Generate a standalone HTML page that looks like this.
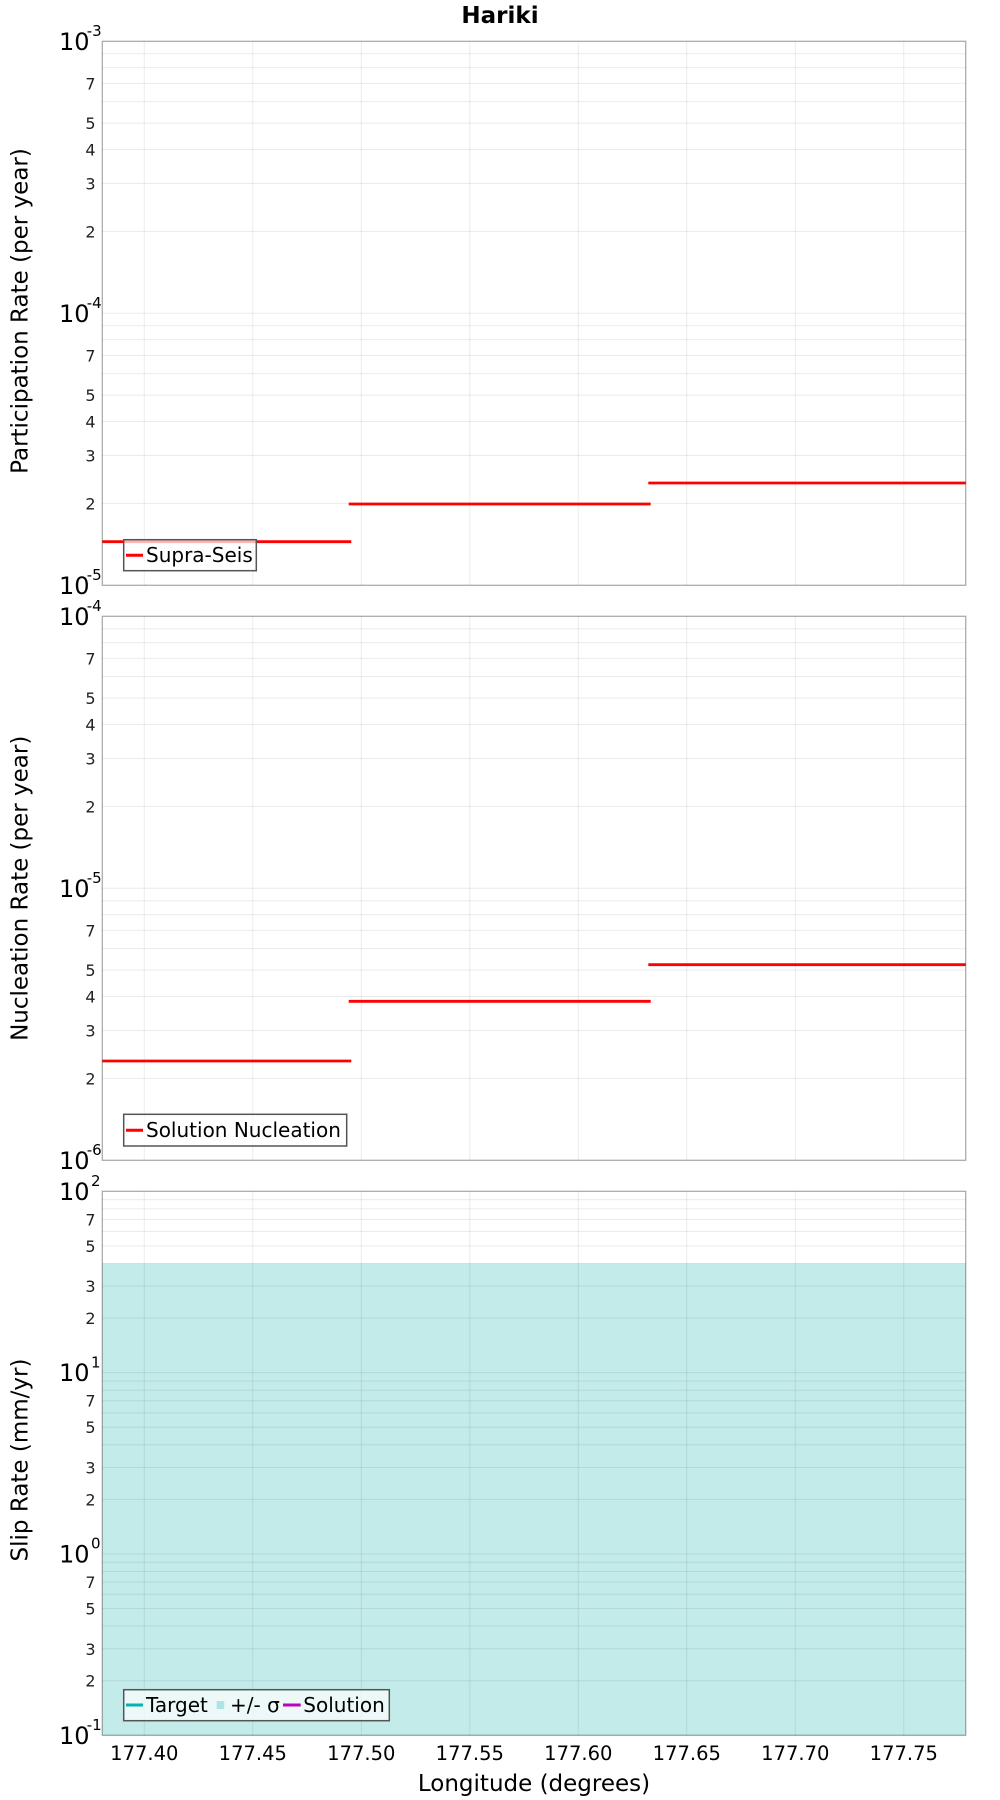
<!DOCTYPE html>
<html><head><meta charset="utf-8"><style>
html,body{margin:0;padding:0;background:#fff;}
svg{display:block;}
text{font-family:"DejaVu Sans","Liberation Sans",sans-serif;fill:#000;}
.mn{font-size:16px;text-anchor:end;fill:#222;}
.mj{font-size:24px;text-anchor:end;}
.sp{font-size:15px;text-anchor:end;}
.xt{font-size:19.5px;text-anchor:middle;}
.at{font-size:23px;text-anchor:middle;}
.lg{font-size:20px;}
.g line{stroke:rgba(0,0,0,0.08);stroke-width:1;}
</style></head><body>
<svg width="1000" height="1800" viewBox="0 0 1000 1800" xmlns="http://www.w3.org/2000/svg">
<rect width="1000" height="1800" fill="#fff"/>
<text x="500" y="23" style="font-size:23px;font-weight:bold;text-anchor:middle;">Hariki</text>

<!-- ===== Panel 3 fill (draw before grid) ===== -->
<rect x="102.3" y="1263.46" width="863.4" height="471.84" fill="#c3ebea"/>

<!-- ===== Vertical grid lines (all panels) ===== -->
<g class="g">
<line x1="144.3" y1="41.3" x2="144.3" y2="585.3"/><line x1="252.8" y1="41.3" x2="252.8" y2="585.3"/><line x1="361.3" y1="41.3" x2="361.3" y2="585.3"/><line x1="469.8" y1="41.3" x2="469.8" y2="585.3"/><line x1="578.3" y1="41.3" x2="578.3" y2="585.3"/><line x1="686.8" y1="41.3" x2="686.8" y2="585.3"/><line x1="795.3" y1="41.3" x2="795.3" y2="585.3"/><line x1="903.8" y1="41.3" x2="903.8" y2="585.3"/>
<line x1="144.3" y1="616.3" x2="144.3" y2="1160.3"/><line x1="252.8" y1="616.3" x2="252.8" y2="1160.3"/><line x1="361.3" y1="616.3" x2="361.3" y2="1160.3"/><line x1="469.8" y1="616.3" x2="469.8" y2="1160.3"/><line x1="578.3" y1="616.3" x2="578.3" y2="1160.3"/><line x1="686.8" y1="616.3" x2="686.8" y2="1160.3"/><line x1="795.3" y1="616.3" x2="795.3" y2="1160.3"/><line x1="903.8" y1="616.3" x2="903.8" y2="1160.3"/>
<line x1="144.3" y1="1191.3" x2="144.3" y2="1735.3"/><line x1="252.8" y1="1191.3" x2="252.8" y2="1735.3"/><line x1="361.3" y1="1191.3" x2="361.3" y2="1735.3"/><line x1="469.8" y1="1191.3" x2="469.8" y2="1735.3"/><line x1="578.3" y1="1191.3" x2="578.3" y2="1735.3"/><line x1="686.8" y1="1191.3" x2="686.8" y2="1735.3"/><line x1="795.3" y1="1191.3" x2="795.3" y2="1735.3"/><line x1="903.8" y1="1191.3" x2="903.8" y2="1735.3"/>
</g>

<!-- ===== Horizontal grid lines panel 1 ===== -->
<g class="g">
<line x1="102.3" x2="965.7" y1="53.75" y2="53.75"/><line x1="102.3" x2="965.7" y1="67.66" y2="67.66"/><line x1="102.3" x2="965.7" y1="83.43" y2="83.43"/><line x1="102.3" x2="965.7" y1="101.64" y2="101.64"/><line x1="102.3" x2="965.7" y1="123.18" y2="123.18"/><line x1="102.3" x2="965.7" y1="149.54" y2="149.54"/><line x1="102.3" x2="965.7" y1="183.52" y2="183.52"/><line x1="102.3" x2="965.7" y1="231.42" y2="231.42"/><line x1="102.3" x2="965.7" y1="313.3" y2="313.3"/>
<line x1="102.3" x2="965.7" y1="325.75" y2="325.75"/><line x1="102.3" x2="965.7" y1="339.66" y2="339.66"/><line x1="102.3" x2="965.7" y1="355.43" y2="355.43"/><line x1="102.3" x2="965.7" y1="373.64" y2="373.64"/><line x1="102.3" x2="965.7" y1="395.18" y2="395.18"/><line x1="102.3" x2="965.7" y1="421.54" y2="421.54"/><line x1="102.3" x2="965.7" y1="455.52" y2="455.52"/><line x1="102.3" x2="965.7" y1="503.42" y2="503.42"/>
<!-- panel 2 -->
<line x1="102.3" x2="965.7" y1="628.75" y2="628.75"/><line x1="102.3" x2="965.7" y1="642.66" y2="642.66"/><line x1="102.3" x2="965.7" y1="658.43" y2="658.43"/><line x1="102.3" x2="965.7" y1="676.64" y2="676.64"/><line x1="102.3" x2="965.7" y1="698.18" y2="698.18"/><line x1="102.3" x2="965.7" y1="724.54" y2="724.54"/><line x1="102.3" x2="965.7" y1="758.52" y2="758.52"/><line x1="102.3" x2="965.7" y1="806.42" y2="806.42"/><line x1="102.3" x2="965.7" y1="888.3" y2="888.3"/>
<line x1="102.3" x2="965.7" y1="900.75" y2="900.75"/><line x1="102.3" x2="965.7" y1="914.66" y2="914.66"/><line x1="102.3" x2="965.7" y1="930.43" y2="930.43"/><line x1="102.3" x2="965.7" y1="948.64" y2="948.64"/><line x1="102.3" x2="965.7" y1="970.18" y2="970.18"/><line x1="102.3" x2="965.7" y1="996.54" y2="996.54"/><line x1="102.3" x2="965.7" y1="1030.52" y2="1030.52"/><line x1="102.3" x2="965.7" y1="1078.42" y2="1078.42"/>
<!-- panel 3 -->
<line x1="102.3" x2="965.7" y1="1199.6" y2="1199.6"/><line x1="102.3" x2="965.7" y1="1208.87" y2="1208.87"/><line x1="102.3" x2="965.7" y1="1219.39" y2="1219.39"/><line x1="102.3" x2="965.7" y1="1231.52" y2="1231.52"/><line x1="102.3" x2="965.7" y1="1245.88" y2="1245.88"/><line x1="102.3" x2="965.7" y1="1263.46" y2="1263.46"/><line x1="102.3" x2="965.7" y1="1286.11" y2="1286.11"/><line x1="102.3" x2="965.7" y1="1318.04" y2="1318.04"/><line x1="102.3" x2="965.7" y1="1372.63" y2="1372.63"/>
<line x1="102.3" x2="965.7" y1="1380.94" y2="1380.94"/><line x1="102.3" x2="965.7" y1="1390.21" y2="1390.21"/><line x1="102.3" x2="965.7" y1="1400.73" y2="1400.73"/><line x1="102.3" x2="965.7" y1="1412.86" y2="1412.86"/><line x1="102.3" x2="965.7" y1="1427.22" y2="1427.22"/><line x1="102.3" x2="965.7" y1="1444.8" y2="1444.8"/><line x1="102.3" x2="965.7" y1="1467.45" y2="1467.45"/><line x1="102.3" x2="965.7" y1="1499.38" y2="1499.38"/><line x1="102.3" x2="965.7" y1="1553.97" y2="1553.97"/>
<line x1="102.3" x2="965.7" y1="1562.27" y2="1562.27"/><line x1="102.3" x2="965.7" y1="1571.54" y2="1571.54"/><line x1="102.3" x2="965.7" y1="1582.06" y2="1582.06"/><line x1="102.3" x2="965.7" y1="1594.19" y2="1594.19"/><line x1="102.3" x2="965.7" y1="1608.55" y2="1608.55"/><line x1="102.3" x2="965.7" y1="1626.13" y2="1626.13"/><line x1="102.3" x2="965.7" y1="1648.78" y2="1648.78"/><line x1="102.3" x2="965.7" y1="1680.71" y2="1680.71"/>
</g>

<!-- ===== Series ===== -->
<g stroke="#ff0000" stroke-width="2.8" fill="none">
<line x1="102.3" y1="541.7" x2="351.3" y2="541.7"/>
<line x1="348.7" y1="504" x2="650.7" y2="504"/>
<line x1="648.3" y1="483" x2="965.7" y2="483"/>
<line x1="102.3" y1="1061" x2="351.3" y2="1061"/>
<line x1="348.7" y1="1001.3" x2="650.7" y2="1001.3"/>
<line x1="648.3" y1="964.7" x2="965.7" y2="964.7"/>
</g>

<!-- ===== Plot borders ===== -->
<g fill="none" stroke="rgba(0,0,0,0.33)" stroke-width="1.3">
<rect x="102.3" y="41.3" width="863.4" height="544"/>
<rect x="102.3" y="616.3" width="863.4" height="544"/>
<rect x="102.3" y="1191.3" width="863.4" height="544"/>
</g>

<!-- ===== Y tick labels panel 1 ===== -->
<text class="mj" x="89.5" y="49.8">10</text><text class="sp" x="101.7" y="36">-3</text>
<text class="mn" x="95.5" y="89.4">7</text><text class="mn" x="95.5" y="129.2">5</text><text class="mn" x="95.5" y="155.5">4</text><text class="mn" x="95.5" y="189.5">3</text><text class="mn" x="95.5" y="237.4">2</text>
<text class="mj" x="89.5" y="321.8">10</text><text class="sp" x="101.7" y="308">-4</text>
<text class="mn" x="95.5" y="361.4">7</text><text class="mn" x="95.5" y="401.2">5</text><text class="mn" x="95.5" y="427.5">4</text><text class="mn" x="95.5" y="461.5">3</text><text class="mn" x="95.5" y="509.4">2</text>
<text class="mj" x="89.5" y="593.8">10</text><text class="sp" x="101.7" y="580">-5</text>

<!-- panel 2 -->
<text class="mj" x="89.5" y="624.8">10</text><text class="sp" x="101.7" y="611">-4</text>
<text class="mn" x="95.5" y="664.4">7</text><text class="mn" x="95.5" y="704.2">5</text><text class="mn" x="95.5" y="730.5">4</text><text class="mn" x="95.5" y="764.5">3</text><text class="mn" x="95.5" y="812.4">2</text>
<text class="mj" x="89.5" y="896.8">10</text><text class="sp" x="101.7" y="883">-5</text>
<text class="mn" x="95.5" y="936.4">7</text><text class="mn" x="95.5" y="976.2">5</text><text class="mn" x="95.5" y="1002.5">4</text><text class="mn" x="95.5" y="1036.5">3</text><text class="mn" x="95.5" y="1084.4">2</text>
<text class="mj" x="89.5" y="1168.8">10</text><text class="sp" x="101.7" y="1155">-6</text>

<!-- panel 3 -->
<text class="mj" x="89.5" y="1199.8">10</text><text class="sp" x="100.5" y="1186">2</text>
<text class="mn" x="95.5" y="1225.4">7</text><text class="mn" x="95.5" y="1251.9">5</text><text class="mn" x="95.5" y="1292.1">3</text><text class="mn" x="95.5" y="1324">2</text>
<text class="mj" x="89.5" y="1381.1">10</text><text class="sp" x="100.5" y="1367.3">1</text>
<text class="mn" x="95.5" y="1406.7">7</text><text class="mn" x="95.5" y="1433.2">5</text><text class="mn" x="95.5" y="1473.4">3</text><text class="mn" x="95.5" y="1505.4">2</text>
<text class="mj" x="89.5" y="1562.5">10</text><text class="sp" x="100.5" y="1548.7">0</text>
<text class="mn" x="95.5" y="1588.1">7</text><text class="mn" x="95.5" y="1614.6">5</text><text class="mn" x="95.5" y="1654.8">3</text><text class="mn" x="95.5" y="1686.7">2</text>
<text class="mj" x="89.5" y="1743.8">10</text><text class="sp" x="101.7" y="1730">-1</text>

<!-- ===== X tick labels ===== -->
<text class="xt" x="144.3" y="1760">177.40</text>
<text class="xt" x="252.8" y="1760">177.45</text>
<text class="xt" x="361.3" y="1760">177.50</text>
<text class="xt" x="469.8" y="1760">177.55</text>
<text class="xt" x="578.3" y="1760">177.60</text>
<text class="xt" x="686.8" y="1760">177.65</text>
<text class="xt" x="795.3" y="1760">177.70</text>
<text class="xt" x="903.8" y="1760">177.75</text>

<!-- ===== Axis titles ===== -->
<text class="at" x="534" y="1791">Longitude (degrees)</text>
<text class="at" transform="translate(27.5,311) rotate(-90)" x="0" y="0">Participation Rate (per year)</text>
<text class="at" transform="translate(27.5,888.3) rotate(-90)" x="0" y="0">Nucleation Rate (per year)</text>
<text class="at" transform="translate(27.5,1460) rotate(-90)" x="0" y="0">Slip Rate (mm/yr)</text>

<!-- ===== Legends ===== -->
<rect x="123.7" y="539.7" width="132.6" height="31" fill="rgba(255,255,255,0.7)" stroke="#555" stroke-width="1.5"/>
<line x1="126" y1="555.2" x2="143" y2="555.2" stroke="#ff0000" stroke-width="3"/>
<text class="lg" x="146" y="562">Supra-Seis</text>

<rect x="123.7" y="1114.3" width="223" height="31.7" fill="rgba(255,255,255,0.7)" stroke="#555" stroke-width="1.5"/>
<line x1="126" y1="1130.2" x2="143" y2="1130.2" stroke="#ff0000" stroke-width="3"/>
<text class="lg" x="146" y="1137">Solution Nucleation</text>

<rect x="123.7" y="1689.7" width="265.6" height="31" fill="rgba(255,255,255,0.7)" stroke="#555" stroke-width="1.5"/>
<line x1="126" y1="1705" x2="143" y2="1705" stroke="#00b4b4" stroke-width="3"/>
<text class="lg" x="146" y="1712">Target</text>
<rect x="216.7" y="1701" width="7.6" height="8" fill="#b0e4e4"/>
<text class="lg" x="230" y="1712">+/- σ</text>
<line x1="283" y1="1705" x2="300.7" y2="1705" stroke="#c000c0" stroke-width="3"/>
<text class="lg" x="303.3" y="1712">Solution</text>
</svg>
</body></html>
